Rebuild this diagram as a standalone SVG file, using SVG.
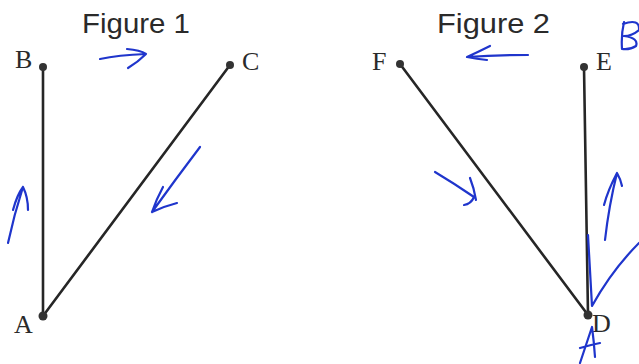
<svg xmlns="http://www.w3.org/2000/svg" width="639" height="364" viewBox="0 0 639 364">
<style>
.title{font-family:"Liberation Sans",Arial,sans-serif;font-size:27px;fill:#2a2a2a}
.lbl{font-family:"Liberation Serif","Times New Roman",serif;font-size:26px;fill:#2a2a2a}
.edge{stroke:#262626;stroke-width:2.6;stroke-linecap:round;fill:none}
.dot{fill:#333}
.ink{stroke:#1f35cc;stroke-width:2.2;fill:none;stroke-linecap:round;stroke-linejoin:round}
</style>
<rect width="639" height="364" fill="#fff"/>
<text class="title" x="82" y="33" textLength="108" lengthAdjust="spacingAndGlyphs">Figure 1</text>
<text class="title" x="437" y="33" textLength="113" lengthAdjust="spacingAndGlyphs">Figure 2</text>
<g id="connectors">
<line class="edge" x1="43" y1="67" x2="43" y2="316"/>
<line class="edge" x1="43" y1="316" x2="230" y2="65"/>
<line class="edge" x1="400" y1="64" x2="588" y2="315"/>
<line class="edge" x1="584" y1="67" x2="588" y2="315"/>
</g>
<g id="B"><circle class="dot" cx="43" cy="67" r="4"/><text class="lbl" x="15" y="68">B</text></g>
<g id="C"><circle class="dot" cx="230" cy="65" r="4"/><text class="lbl" x="242" y="70">C</text></g>
<g id="A"><circle class="dot" cx="43" cy="316" r="4.5"/><text class="lbl" x="14" y="333">A</text></g>
<g id="F"><circle class="dot" cx="400" cy="64" r="4"/><text class="lbl" x="372" y="70">F</text></g>
<g id="E"><circle class="dot" cx="584" cy="67" r="4"/><text class="lbl" x="596" y="70">E</text></g>
<g id="D"><circle class="dot" cx="588" cy="315" r="4.5"/><text class="lbl" x="592" y="332">D</text></g>
<g id="annotations">
<path class="ink" d="M100 59 Q118 55 146 54 M127 49 Q140 50 146 54 Q138 62 128 68"/>
<path class="ink" d="M8 243 Q14 215 23 187 M13 210 Q17 195 23 187 Q28 197 28 210"/>
<path class="ink" d="M200 147 Q175 180 152 212 M163 187 Q156 200 152 212 Q165 206 177 203"/>
<path class="ink" d="M528 55 Q495 55 467 57 M490 46 Q478 52 467 57 Q477 59 487 60"/>
<path class="ink" d="M435 172 Q455 184 474 197 Q471 204 464 205 M470 178 Q474 188 476 200"/>
<path class="ink" d="M605 240 Q609 205 617 173 Q621 180 622 186 M604 205 Q608 190 617 173"/>
<path class="ink" d="M588 235 Q590 270 592 306 Q612 270 639 243"/>
<path class="ink" d="M580 363 Q586 345 592 327 Q594 342 595 357 M580 348 Q590 345 600 343"/>
<path class="ink" d="M624 22 Q621 35 622 49 M623 24 Q640 18 639 30 Q632 36 624 36 Q639 38 636 46 Q630 50 622 49"/>
</g>
</svg>
